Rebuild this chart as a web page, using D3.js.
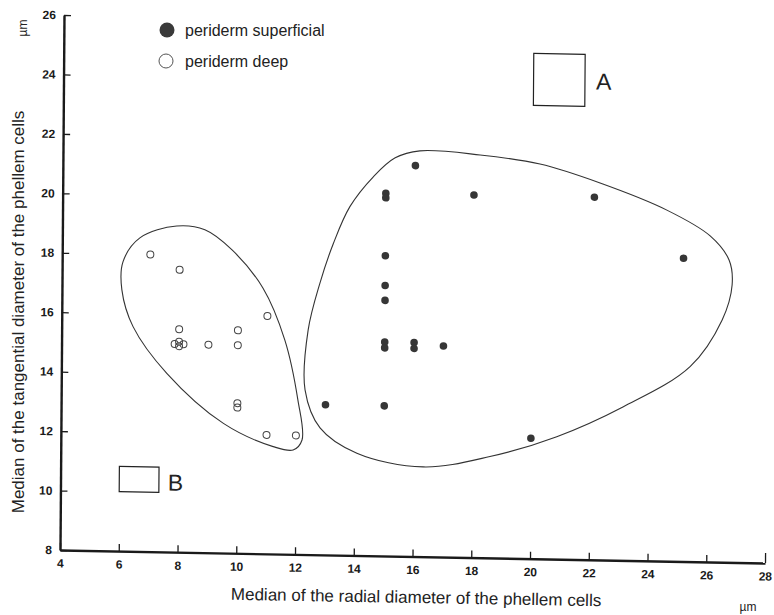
<!DOCTYPE html>
<html>
<head>
<meta charset="utf-8">
<script src="https://cdn.jsdelivr.net/npm/d3@7"></script>
<style>
  body { margin: 0; background: #fff; }
  svg { display: block; }
  text { font-family: "Liberation Sans", Arial, Helvetica, sans-serif; fill: #222; }
  .tick text { font-family: "Liberation Sans Narrow", "Liberation Sans", Arial, sans-serif; font-weight: bold; font-size: 12px; fill: #1a1a1a; }
</style>
</head>
<body>
<svg id="chart" width="774" height="615"></svg>
<script>
// Axis ticks (µm)
const xTicks = [4, 6, 8, 10, 12, 14, 16, 18, 20, 22, 24, 26, 28];
const yTicks = [8, 10, 12, 14, 16, 18, 20, 22, 24, 26];

// Periderm superficial: median radial (x) and tangential (y) diameter
const superficialX = [16, 15, 15, 18, 22.1, 15, 25.15, 15, 15, 15, 15, 16, 16, 17, 13, 15, 20];
const superficialY = [21.15, 20.2, 20.05, 20.2, 20.2, 18.1, 18.2, 17.1, 16.6, 15.2, 15.0, 15.2, 15.0, 15.1, 13.05, 13.05, 12.05];

// Periderm deep
const deepX = [7, 8, 11, 8, 10, 7.85, 8, 8.15, 8, 9, 10, 10, 10, 11, 12];
const deepY = [18, 17.5, 16, 15.5, 15.5, 15, 15.08, 15, 14.93, 15, 15, 13.05, 12.9, 12, 12];

// Hand-drawn group outlines
const deepOutlineX = [7.89, 6.64, 6.07, 6.04, 6.43, 7.59, 9.53, 11.23, 11.91, 12.21, 12.06, 11.6, 10.84, 9.78, 8.85];
const deepOutlineY = [18.97, 18.55, 17.73, 16.79, 15.56, 14.01, 12.36, 11.61, 11.51, 11.85, 13.19, 15.2, 16.94, 18.2, 18.86];
const superficialOutlineX = [16.15, 18.2, 20.24, 22.29, 24.57, 26.05, 26.7, 26.81, 26.48, 25.4, 23.14, 20.88, 18.61, 16.34, 14.08, 12.82, 12.3, 12.39, 12.78, 13.23, 13.78, 14.57, 15.31];
const superficialOutlineY = [21.65, 21.55, 21.28, 20.68, 19.81, 18.97, 18.17, 17.33, 16.15, 14.56, 13.17, 12.12, 11.41, 11.02, 11.44, 12.27, 13.54, 15.55, 17.14, 18.49, 19.73, 20.75, 21.4];

// Reference cell outlines A and B (µm extents)
const boxAx = [20, 21.75], boxAy = [23.25, 25];
const boxBx = [6, 7.35],  boxBy = [10, 10.85];

const legendLabels = ["periderm superficial", "periderm deep"];

const svg = d3.select("#chart");
const W = 705, H = 535;

const x = d3.scaleLinear().domain([4, 28]).range([0, W]);
const y = d3.scaleLinear().domain([8, 26]).range([H, 0]);

// plot frame, slightly skewed like the printed figure
const g = svg.append("g").attr("transform", "matrix(1,0.01844,-0.00748,1,64,15)");

const xAxis = g.append("g")
  .attr("transform", `translate(0,${H})`)
  .call(d3.axisBottom(x).tickValues(xTicks).tickSize(-7).tickSizeOuter(0).tickPadding(9).tickFormat(d3.format("d")));
const yAxis = g.append("g")
  .call(d3.axisLeft(y).tickValues(yTicks).tickSize(-7).tickSizeOuter(0).tickPadding(8).tickFormat(d3.format("d")));

[xAxis, yAxis].forEach(a => {
  a.select(".domain").attr("stroke", "#1a1a1a").attr("stroke-width", 2.4);
  a.selectAll(".tick line").attr("stroke", "#1a1a1a").attr("stroke-width", 1.3);
});
xAxis.select(".tick:last-of-type line").attr("y2", -10);

// group outlines
const outline = d3.line()
  .x(d => x(d[0])).y(d => y(d[1]))
  .curve(d3.curveCatmullRomClosed.alpha(0.5));

g.append("path")
  .datum(deepOutlineX.map((v, i) => [v, deepOutlineY[i]]))
  .attr("d", outline).attr("fill", "none").attr("stroke", "#333").attr("stroke-width", 1.1);
g.append("path")
  .datum(superficialOutlineX.map((v, i) => [v, superficialOutlineY[i]]))
  .attr("d", outline).attr("fill", "none").attr("stroke", "#333").attr("stroke-width", 1.1);

// points
g.append("g").selectAll("circle")
  .data(deepX.map((v, i) => [v, deepY[i]]))
  .join("circle")
  .attr("cx", d => x(d[0])).attr("cy", d => y(d[1])).attr("r", 3.5)
  .attr("fill", "none").attr("stroke", "#444").attr("stroke-width", 1);

g.append("g").selectAll("circle")
  .data(superficialX.map((v, i) => [v, superficialY[i]]))
  .join("circle")
  .attr("cx", d => x(d[0])).attr("cy", d => y(d[1])).attr("r", 3.8)
  .attr("fill", "#363636");

// cell outlines A and B
[[boxAx, boxAy, "A", 11, 9], [boxBx, boxBy, "B", 9, 10.5]].forEach(([bx, by, label, gap, dy]) => {
  g.append("rect")
    .attr("x", x(bx[0])).attr("y", y(by[1]))
    .attr("width", x(bx[1]) - x(bx[0])).attr("height", y(by[0]) - y(by[1]))
    .attr("fill", "none").attr("stroke", "#222").attr("stroke-width", 1.2);
  g.append("text")
    .attr("x", x(bx[1]) + gap).attr("y", (y(by[0]) + y(by[1])) / 2 + dy)
    .attr("font-size", 23).text(label);
});

// legend
const legend = svg.append("g").attr("transform", "translate(167,30)");
legend.append("circle").attr("cx", 0).attr("cy", 0).attr("r", 7.5).attr("fill", "#3a3a3a");
legend.append("circle").attr("cx", -1).attr("cy", 31).attr("r", 7).attr("fill", "none").attr("stroke", "#555").attr("stroke-width", 1);
legendLabels.forEach((t, i) => {
  legend.append("text").attr("x", 18).attr("y", 6 + i * 31).attr("font-size", 16).text(t);
});

// axis titles and units
svg.append("text")
  .attr("transform", "translate(24,312) rotate(-90)")
  .attr("text-anchor", "middle").attr("font-size", 17)
  .text("Median of the tangential diameter of the phellem cells");
svg.append("text")
  .attr("transform", "translate(416,603) rotate(1)")
  .attr("text-anchor", "middle").attr("font-size", 17)
  .text("Median of the radial diameter of the phellem cells");
svg.append("text")
  .attr("transform", "translate(27,28) rotate(-90)")
  .attr("text-anchor", "middle").attr("font-size", 12)
  .text("µm");
svg.append("text")
  .attr("x", 748).attr("y", 611)
  .attr("text-anchor", "middle").attr("font-size", 12)
  .text("µm");
</script>
</body>
</html>
